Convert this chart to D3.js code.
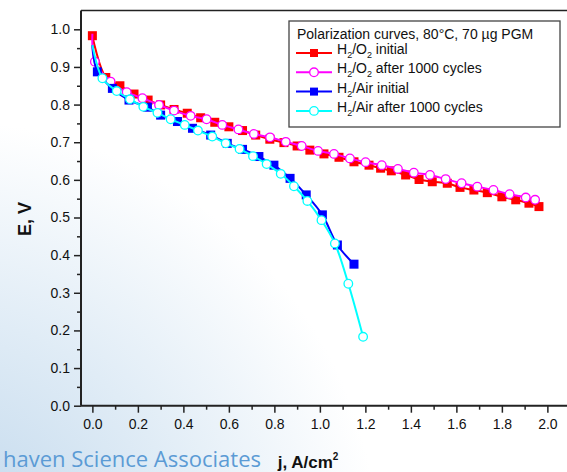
<!DOCTYPE html>
<html lang="en">
<head>
    <meta charset="UTF-8">
    <title>Polarization curves</title>
    <style>
        body {
            margin: 0;
            padding: 0;
            background-color: #ffffff;
            font-family: Arial, "Liberation Sans", sans-serif;
        }
        svg { display: block; }
        .tick text { font-family: Arial, "Liberation Sans", sans-serif; }
    </style>
</head>
<body>
<svg width="567" height="472"></svg>
<script src="https://cdn.jsdelivr.net/npm/d3@7/dist/d3.min.js"></script>
<script>
    // H2/O2 initial (red squares)
    let o2InitJ = [0, 0.059, 0.121, 0.183, 0.245, 0.30, 0.359, 0.417, 0.476, 0.538, 0.60, 0.66, 0.718, 0.78, 0.842, 0.90, 0.956,
                   1.018, 1.084, 1.15, 1.216, 1.267, 1.314, 1.377, 1.436, 1.494, 1.56, 1.616, 1.677, 1.736, 1.80, 1.861, 1.919, 1.963];
    let o2InitE = [0.983, 0.872, 0.850, 0.828, 0.812, 0.799, 0.787, 0.777, 0.765, 0.753, 0.741, 0.731, 0.719, 0.708, 0.699, 0.690, 0.679,
                   0.669, 0.660, 0.648, 0.639, 0.631, 0.624, 0.613, 0.601, 0.595, 0.591, 0.580, 0.573, 0.566, 0.555, 0.547, 0.538, 0.529];

    // H2/O2 after 1000 cycles (magenta circles)
    let o2AgedJ = [0, 0.011, 0.08, 0.151, 0.22, 0.293, 0.359, 0.432, 0.502, 0.571, 0.642, 0.71, 0.781, 0.85, 0.92,
                   0.992, 1.062, 1.132, 1.201, 1.272, 1.343, 1.413, 1.484, 1.553, 1.623, 1.692, 1.763, 1.834, 1.905, 1.946];
    let o2AgedE = [0.988, 0.914, 0.861, 0.833, 0.817, 0.799, 0.784, 0.770, 0.761, 0.746, 0.734, 0.722, 0.713, 0.701, 0.690,
                   0.677, 0.669, 0.657, 0.647, 0.639, 0.629, 0.619, 0.613, 0.602, 0.591, 0.582, 0.573, 0.562, 0.553, 0.547];

    // H2/Air initial (blue squares)
    let airInitJ = [0, 0.022, 0.088, 0.161, 0.242, 0.30, 0.374, 0.44, 0.52, 0.593, 0.66, 0.732, 0.798, 0.869, 0.94, 1.011, 1.077, 1.15];
    let airInitE = [0.958, 0.887, 0.843, 0.812, 0.793, 0.772, 0.755, 0.737, 0.719, 0.697, 0.681, 0.662, 0.639, 0.604, 0.560, 0.507, 0.427, 0.376];

    // H2/Air after 1000 cycles (cyan circles)
    let airAgedJ = [0, 0.044, 0.107, 0.165, 0.224, 0.286, 0.344, 0.406, 0.464, 0.527, 0.586, 0.647, 0.706, 0.766, 0.828, 0.886, 0.945, 1.007, 1.066, 1.125, 1.19];
    let airAgedE = [0.958, 0.870, 0.836, 0.814, 0.794, 0.778, 0.761, 0.746, 0.731, 0.715, 0.697, 0.682, 0.663, 0.642, 0.616, 0.583, 0.544, 0.493, 0.431, 0.324, 0.183];

    let xTicks = [0, 0.2, 0.4, 0.6, 0.8, 1.0, 1.2, 1.4, 1.6, 1.8, 2.0];
    let yTicks = [0, 0.1, 0.2, 0.3, 0.4, 0.5, 0.6, 0.7, 0.8, 0.9, 1.0];

    let legendTitle = "Polarization curves, 80\u00B0C, 70 \u00B5g PGM";

    let series = [
        {name: ["H", "2", "/O", "2", " initial"], j: o2InitJ, e: o2InitE, color: "#ff0000", marker: "square", skipFirst: false},
        {name: ["H", "2", "/O", "2", " after 1000 cycles"], j: o2AgedJ, e: o2AgedE, color: "#ff00ff", marker: "circle", skipFirst: true},
        {name: ["H", "2", "/Air initial"], j: airInitJ, e: airInitE, color: "#0000ff", marker: "square", skipFirst: true},
        {name: ["H", "2", "/Air after 1000 cycles"], j: airAgedJ, e: airAgedE, color: "#00ffff", marker: "circle", skipFirst: true}
    ];

    let width = 567, height = 472;
    let plotLeft = 81, plotTop = 10.5, plotBottom = 405.7;

    let svg = d3.select("svg");

    // slide background swoosh
    let defs = svg.append("defs");
    let grad = defs.append("radialGradient")
        .attr("id", "bg")
        .attr("gradientUnits", "userSpaceOnUse")
        .attr("cx", -60).attr("cy", 560).attr("r", 440);
    grad.append("stop").attr("offset", "0%").attr("stop-color", "#bcd5eb");
    grad.append("stop").attr("offset", "55%").attr("stop-color", "#e0ecf6");
    grad.append("stop").attr("offset", "100%").attr("stop-color", "#ffffff");
    svg.append("rect").attr("width", width).attr("height", height).attr("fill", "url(#bg)");

    let x = d3.scaleLinear().domain([-0.05, 2.1]).range([plotLeft, plotLeft + 2.15 * 227.5]);
    let y = d3.scaleLinear().domain([0, 1.05]).range([plotBottom, plotBottom - 1.05 * 376.4]);

    // minor ticks
    let xMinor = d3.range(0, 2.05, 0.1).filter(v => Math.round(v * 10) % 2 === 1);
    let yMinor = d3.range(0.05, 1.05, 0.1);

    svg.append("g")
        .attr("transform", `translate(0,${plotBottom})`)
        .call(d3.axisBottom(x).tickValues(xMinor).tickSize(4).tickFormat(""))
        .call(g => g.select(".domain").remove())
        .selectAll("line").attr("stroke", "#222").attr("stroke-width", 1.5);

    svg.append("g")
        .attr("transform", `translate(${plotLeft},0)`)
        .call(d3.axisLeft(y).tickValues(yMinor).tickSize(4).tickFormat(""))
        .call(g => g.select(".domain").remove())
        .selectAll("line").attr("stroke", "#222").attr("stroke-width", 1.5);

    let xAxis = svg.append("g")
        .attr("transform", `translate(0,${plotBottom})`)
        .call(d3.axisBottom(x).tickValues(xTicks).tickSize(7).tickPadding(6).tickFormat(d3.format(".1f")));
    xAxis.select(".domain").remove();
    xAxis.selectAll("line").attr("stroke", "#222").attr("stroke-width", 1.5);
    xAxis.selectAll("text").attr("font-size", "14px").attr("fill", "#111");

    let yAxis = svg.append("g")
        .attr("transform", `translate(${plotLeft},0)`)
        .call(d3.axisLeft(y).tickValues(yTicks).tickSize(7).tickPadding(4).tickFormat(d3.format(".1f")));
    yAxis.select(".domain").remove();
    yAxis.selectAll("line").attr("stroke", "#222").attr("stroke-width", 1.5);
    yAxis.selectAll("text").attr("font-size", "14px").attr("fill", "#111");

    // frame lines
    svg.append("line").attr("x1", plotLeft).attr("x2", width).attr("y1", plotBottom).attr("y2", plotBottom)
        .attr("stroke", "#222").attr("stroke-width", 2);
    svg.append("line").attr("x1", plotLeft).attr("x2", plotLeft).attr("y1", plotTop).attr("y2", plotBottom)
        .attr("stroke", "#222").attr("stroke-width", 2);
    svg.append("line").attr("x1", plotLeft).attr("x2", width).attr("y1", plotTop).attr("y2", plotTop)
        .attr("stroke", "#222").attr("stroke-width", 1.5);

    // series
    let line = d3.line()
        .x(d => x(d[0]))
        .y(d => y(d[1]))
        .curve(d3.curveCatmullRom.alpha(0.5));

    series.forEach(s => {
        let pts = s.j.map((v, i) => [v, s.e[i]]);
        let g = svg.append("g");
        g.append("path")
            .attr("d", line(pts))
            .attr("fill", "none")
            .attr("stroke", s.color)
            .attr("stroke-width", 2);
        let mk = pts.filter((d, i) => !(s.skipFirst && i === 0));
        if (s.marker === "square") {
            g.selectAll("rect").data(mk).enter().append("rect")
                .attr("x", d => x(d[0]) - 4.5)
                .attr("y", d => y(d[1]) - 4.5)
                .attr("width", 9).attr("height", 9)
                .attr("fill", s.color);
        } else {
            g.selectAll("circle").data(mk).enter().append("circle")
                .attr("cx", d => x(d[0]))
                .attr("cy", d => y(d[1]))
                .attr("r", 4.3)
                .attr("fill", "#ffffff")
                .attr("stroke", s.color)
                .attr("stroke-width", 1.3);
        }
    });

    // legend
    let legend = svg.append("g").attr("transform", "translate(289,21)");
    legend.append("rect")
        .attr("width", 271).attr("height", 106)
        .attr("fill", "#ffffff").attr("stroke", "#444").attr("stroke-width", 1.3);
    legend.append("text")
        .attr("x", 8).attr("y", 18)
        .attr("font-size", "14px").attr("fill", "#111")
        .text(legendTitle);

    series.forEach((s, i) => {
        let cy = 32 + i * 19.3;
        let row = legend.append("g").attr("transform", `translate(0,${cy})`);
        row.append("line").attr("x1", 7).attr("x2", 43).attr("y1", 0).attr("y2", 0)
            .attr("stroke", s.color).attr("stroke-width", 2);
        if (s.marker === "square") {
            row.append("rect").attr("x", 21).attr("y", -4).attr("width", 8).attr("height", 8).attr("fill", s.color);
        } else {
            row.append("circle").attr("cx", 25).attr("cy", 0).attr("r", 4.3)
                .attr("fill", "#fff").attr("stroke", s.color).attr("stroke-width", 1.3);
        }
        let t = row.append("text").attr("x", 48).attr("y", 5).attr("font-size", "14px").attr("fill", "#111");
        s.name.forEach(part => {
            if (part === "2") {
                t.append("tspan").attr("font-size", "9px").attr("dy", 4).text(part);
            } else {
                t.append("tspan").attr("dy", t.selectAll("tspan").size() ? -4 : 0).text(part);
            }
        });
    });

    // axis titles
    svg.append("text")
        .attr("transform", "translate(31,219) rotate(-90)")
        .attr("text-anchor", "middle")
        .attr("font-size", "18px").attr("font-weight", "bold").attr("fill", "#111")
        .text("E, V");

    let xt = svg.append("text")
        .attr("x", 308).attr("y", 468)
        .attr("text-anchor", "middle")
        .attr("font-size", "17px").attr("font-weight", "bold").attr("fill", "#111");
    xt.append("tspan").text("j, A/cm");
    xt.append("tspan").attr("font-size", "10px").attr("dy", -8).text("2");

    // slide footer
    svg.append("text")
        .attr("x", 3).attr("y", 467)
        .attr("font-family", "'Open Sans', sans-serif")
        .attr("font-size", "22px").attr("fill", "#5b9bd5")
        .text("haven Science Associates");
</script>
</body>
</html>
